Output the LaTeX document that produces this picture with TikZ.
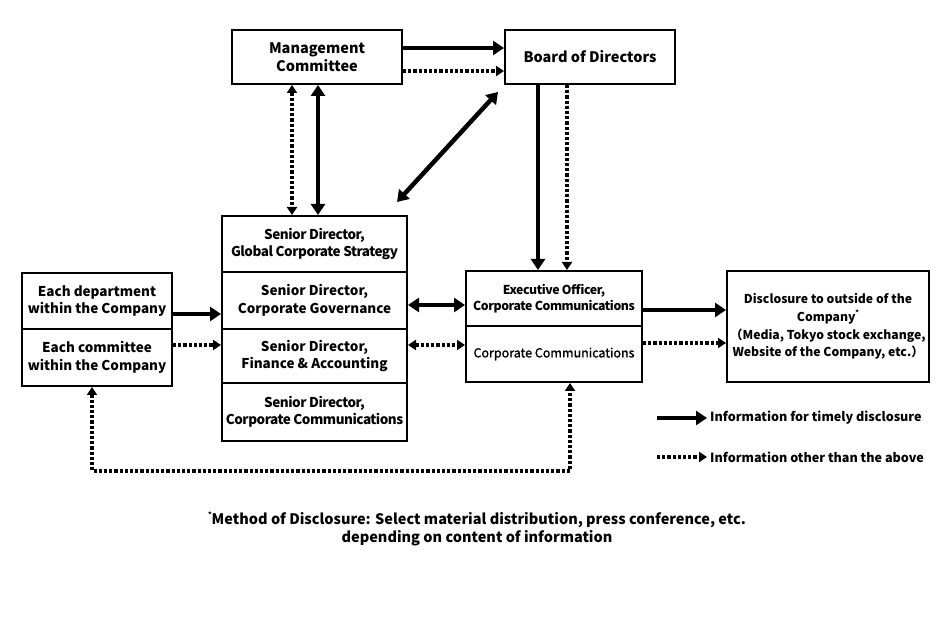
\documentclass[tikz,border=0pt]{standalone}
\usepackage{fontspec}
\setmainfont{Noto Sans CJK JP}
\newfontfamily\condfont{Noto Sans CJK JP}[LetterSpace=-3.5]
\newfontfamily\medfont{Noto Sans CJK JP}[FakeBold=1.2]
\usetikzlibrary{arrows.meta}
\tikzset{
  bigtip/.tip={Triangle[length=11pt,width=14pt]},
  smalltip/.tip={Triangle[length=8pt,width=10pt]},
  box/.style={draw, line width=2pt, align=center, inner sep=0pt},
  txt/.style={font=\fontsize{13.5}{17.5}\selectfont\bfseries},
  txtr/.style={font=\fontsize{13.5}{17.5}\selectfont\condfont\bfseries},
  solidarr/.style={line width=4.5pt, -bigtip},
  solidboth/.style={line width=4.5pt, bigtip-bigtip},
  dotarr/.style={line width=3.4pt, dash pattern=on 3.2pt off 2pt, -smalltip},
  dotboth/.style={line width=3.4pt, dash pattern=on 3.2pt off 2pt, smalltip-smalltip},
}
\newcommand{\myast}{\raisebox{0.45em}{\fontsize{7}{7}\selectfont *}}
\begin{document}
\begin{tikzpicture}[x=1pt,y=1pt]
\useasboundingbox (0,0) rectangle (940,620);
% boxes
\node[box,font=\fontsize{14.5}{18}\selectfont\bfseries,minimum width=170,minimum height=54] (mc) at (317,563) {Management\\Committee};
\node[box,font=\fontsize{14.5}{18}\selectfont\bfseries,minimum width=170,minimum height=54] (bod) at (590,563) {Board of Directors};
\node[box,txtr,minimum width=185,minimum height=56] (sd1) at (314.5,376) {Senior Director,\\Global Corporate Strategy};
\node[box,txt,minimum width=185,minimum height=57] (sd2) at (314.5,319.5) {Senior Director,\\Corporate Governance};
\node[box,txt,minimum width=185,minimum height=54] (sd3) at (314.5,264) {Senior Director,\\Finance \& Accounting};
\node[box,txtr,minimum width=185,minimum height=58] (sd4) at (314.5,208) {Senior Director,\\Corporate Communications};
\node[box,txt,minimum width=150,minimum height=56] (dept1) at (97,319) {Each department\\within the Company};
\node[box,txt,minimum width=150,minimum height=57] (dept2) at (97,262.5) {Each committee\\within the Company};
\node[box,font=\fontsize{12.3}{16}\selectfont\condfont\bfseries,minimum width=176,minimum height=55] (exec1) at (554,321.5) {Executive Officer,\\Corporate Communications};
\node[box,font=\fontsize{12.5}{16}\selectfont\medfont,minimum width=176,minimum height=56] (exec2) at (554,266) {Corporate Communications};
\node[box,font=\fontsize{12.2}{17.7}\selectfont\bfseries,minimum width=202,minimum height=111] (disc) at (828,293.5)
  {Disclosure to outside of the\\Company\myast\\（Media, Tokyo stock exchange,\\Website of the Company, etc.）};
% connectors
\draw[solidarr] ([yshift=9]mc.east) -- ([yshift=9]bod.west);
\draw[dotarr] ([yshift=-14]mc.east) -- ([yshift=-14]bod.west);
\draw[dotboth] ([xshift=-25]mc.south) -- ([xshift=-25]mc.south |- sd1.north);
\draw[solidboth] ([xshift=1]mc.south) -- ([xshift=1]mc.south |- sd1.north);
\coordinate (d1) at (498,528);
\coordinate (d2) at (397,418);
\draw[solidboth] (d1) -- (d2);
\draw[solidarr] ([xshift=-52]bod.south) -- ([xshift=-52]bod.south |- exec1.north);
\draw[dotarr] ([xshift=-23]bod.south) -- ([xshift=-23]bod.south |- exec1.north);
\draw[solidarr] ([yshift=-13]dept1.east) -- ([yshift=-13.5]sd2.west);
\draw[dotarr] ([yshift=12.5]dept2.east) -- ([yshift=11]sd3.west);
\draw[solidboth] ([yshift=-4.5]sd2.east) -- ([yshift=-6.5]exec1.west);
\draw[dotboth] ([yshift=11]sd3.east) -- ([yshift=9]exec2.west);
\draw[solidarr] ([yshift=-11.5]exec1.east) -- ([yshift=16.5]disc.west);
\draw[dotarr] ([yshift=11]exec2.east) -- ([yshift=-16.5]disc.west);
\draw[dotboth] ([xshift=-5]dept2.south) -- ++(0,-84) -| ([xshift=16]exec2.south);
% legend
\coordinate (l1a) at (657,202);
\coordinate (l1b) at (707,202);
\coordinate (l2a) at (657,163);
\coordinate (l2b) at (707,163);
\draw[solidarr] (l1a) -- (l1b);
\draw[dotarr] (l2a) -- (l2b);
\node[anchor=west,font=\fontsize{12.6}{16}\selectfont\bfseries,inner sep=0pt] (lt1) at (710,202) {Information for timely disclosure};
\node[anchor=west,font=\fontsize{12.6}{16}\selectfont\bfseries,inner sep=0pt] (lt2) at (710,163) {Information other than the above};
% footnote
\node[align=center,font=\fontsize{14.5}{18}\selectfont\bfseries] (fn) at (477,91)
  {\myast Method of Disclosure: Select material distribution, press conference, etc.\\depending on content of information};
\end{tikzpicture}
\end{document}
